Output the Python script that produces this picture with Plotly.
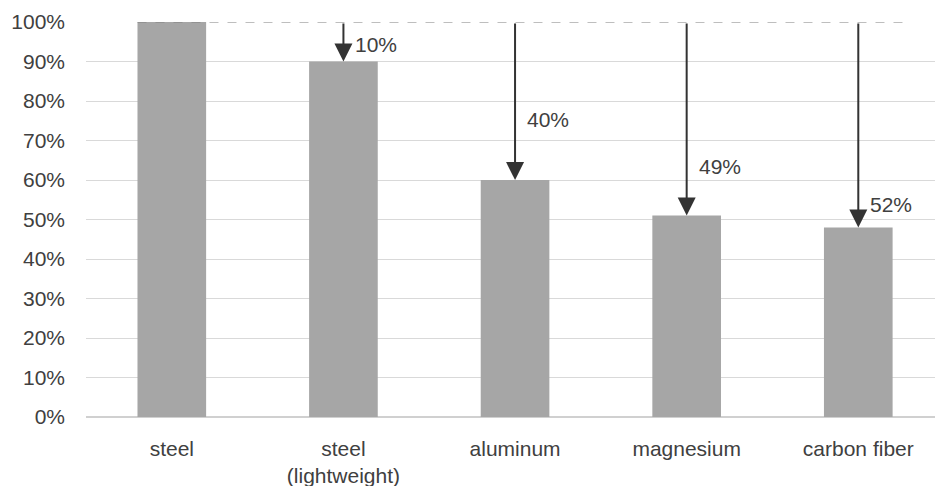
import plotly.graph_objects as go

# Relative body weight by material (steel = 100%)
materials = ["steel", "steel<br>(lightweight)", "aluminum", "magnesium", "carbon fiber"]
weights = [100, 90, 60, 51, 48]
reduction_labels = ["", "10%", "40%", "49%", "52%"]
label_y = [None, 94.3, 75.2, 63.5, 53.9]
y_ticks = list(range(0, 101, 10))

BAR = "#a6a6a6"
INK = "#333333"
FONT = "Liberation Sans, Arial, sans-serif"

fig = go.Figure()
fig.add_trace(go.Bar(
    x=list(range(len(materials))),
    y=weights,
    marker=dict(color=BAR, line=dict(width=0)),
    hoverinfo="skip",
))

# dashed reference line at the steel baseline
fig.add_shape(type="line", xref="x", yref="y",
              x0=-0.2, x1=4.27, y0=weights[0], y1=weights[0],
              line=dict(color="#7f7f7f", width=1.2, dash="dash"), layer="above")

# arrows from the baseline down to each bar, with reduction labels
for i in range(1, len(materials)):
    fig.add_annotation(
        x=i, y=weights[i], ax=i, ay=weights[0],
        xref="x", yref="y", axref="x", ayref="y",
        showarrow=True, arrowhead=2, arrowsize=1.8, arrowwidth=2,
        arrowcolor=INK, standoff=0, startstandoff=0, text="",
    )
    fig.add_annotation(
        x=i, y=label_y[i], xref="x", yref="y",
        text=reduction_labels[i], showarrow=False,
        xanchor="left", yanchor="middle", xshift=10,
        font=dict(family=FONT, size=21, color="#404040"),
    )

fig.update_layout(
    width=935, height=486,
    margin=dict(l=86, r=0, t=22, b=69),
    paper_bgcolor="white", plot_bgcolor="white",
    showlegend=False, bargap=0.6,
    font=dict(family=FONT, size=21, color="#404040"),
)
fig.update_xaxes(
    range=[-0.5, 4.447],
    tickmode="array", tickvals=list(range(len(materials))), ticktext=materials,
    showgrid=False, showline=False, zeroline=False, ticks="",
    ticklabelstandoff=17,
    tickfont=dict(family=FONT, size=21, color="#404040"),
)
fig.update_yaxes(
    range=[0, 100],
    tickmode="array", tickvals=y_ticks, ticktext=[f"{v}%" for v in y_ticks],
    showgrid=True, gridcolor="#d9d9d9", gridwidth=1,
    zeroline=True, zerolinecolor="#d0d0d0", zerolinewidth=1.5,
    ticks="", ticklabelstandoff=20,
    tickfont=dict(family=FONT, size=21, color="#404040"),
)

fig.write_html("out.html")
